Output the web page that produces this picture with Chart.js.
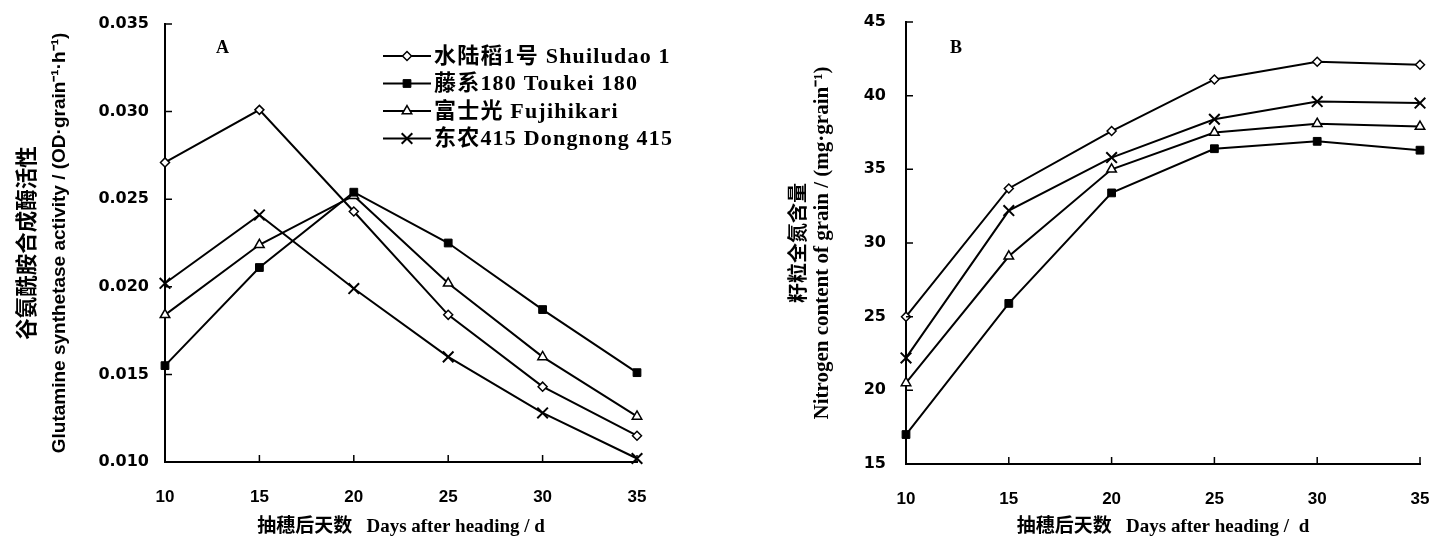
<!DOCTYPE html>
<html>
<head>
<meta charset="utf-8">
<script src="https://cdn.jsdelivr.net/npm/chart.js@4.4.1/dist/chart.umd.min.js"></script>
<style>
  html, body { margin: 0; padding: 0; background: #fff; overflow: hidden; }
  #wrapA { position: absolute; left: 0; top: 0; width: 700px; height: 544px; }
  #wrapB { position: absolute; left: 780px; top: 0; width: 657px; height: 544px; }
</style>
</head>
<body>
<div id="wrapA"><canvas id="chartA"></canvas></div>
<div id="wrapB"><canvas id="chartB"></canvas></div>
<script>
// days after heading
const days = [10, 15, 20, 25, 30, 35];
const varieties = ['水陆稻1号 Shuiludao 1', '藤系180 Toukei 180', '富士光 Fujihikari', '东农415 Dongnong 415'];

// A: glutamine synthetase activity
const gsShuiludao = [0.0271, 0.0301, 0.0243, 0.0184, 0.0143, 0.0115];
const gsToukei    = [0.0155, 0.0211, 0.0254, 0.0225, 0.0187, 0.0151];
const gsFujihikari = [0.0184, 0.0224, 0.0252, 0.0202, 0.0160, 0.0126];
const gsDongnong  = [0.0202, 0.0241, 0.0199, 0.0160, 0.0128, 0.0102];

// B: nitrogen content of grain
const nShuiludao = [25.0, 33.7, 37.6, 41.1, 42.3, 42.1];
const nToukei    = [17.0, 25.9, 33.4, 36.4, 36.9, 36.3];
const nFujihikari = [20.5, 29.1, 35.0, 37.5, 38.1, 37.9];
const nDongnong  = [22.2, 32.2, 35.8, 38.4, 39.6, 39.5];

const markerStyles = [
    { pointStyle: 'rectRot', radius: 4.5, fill: '#fff', width: 1.5 },
    { pointStyle: 'rect', radius: 5.5, fill: '#000', width: 1 },
    { pointStyle: 'triangle', radius: 5.5, fill: '#fff', width: 1.5 },
    { pointStyle: 'crossRot', radius: 7.5, fill: '#000', width: 2 }
];

const yTickFont = { family: "'DejaVu Sans', sans-serif", size: 16, weight: 'bold' };
const xTickFont = { family: "'Liberation Sans', Arial, sans-serif", size: 17, weight: 'bold' };
const titleFamily = "'Liberation Serif', 'Noto Sans CJK SC', serif";

function buildDatasets(seriesList) {
    return seriesList.map((values, i) => ({
        label: varieties[i],
        data: days.map((d, j) => ({ x: d, y: values[j] })),
        borderColor: '#000',
        borderWidth: 2,
        pointStyle: markerStyles[i].pointStyle,
        pointRadius: markerStyles[i].radius,
        pointBackgroundColor: markerStyles[i].fill,
        pointBorderColor: '#000',
        pointBorderWidth: markerStyles[i].width,
        clip: false,
        tension: 0
    }));
}

// short inward tick marks on both axes
const innerTicks = {
    id: 'innerTicks',
    afterDraw(chart) {
        const ctx = chart.ctx;
        const area = chart.chartArea;
        const xs = chart.scales.x, ys = chart.scales.y;
        ctx.save();
        ctx.strokeStyle = '#000';
        ctx.lineWidth = 1.5;
        ctx.beginPath();
        xs.ticks.forEach(t => {
            const px = xs.getPixelForValue(t.value);
            ctx.moveTo(px, area.bottom);
            ctx.lineTo(px, area.bottom - 7);
        });
        ys.ticks.forEach(t => {
            const py = ys.getPixelForValue(t.value);
            ctx.moveTo(area.left, py);
            ctx.lineTo(area.left + 7, py);
        });
        ctx.stroke();
        ctx.restore();
    }
};

// panel letter, Chinese y title line and line legend
const panelDecor = {
    id: 'panelDecor',
    afterDraw(chart, args, opts) {
        const ctx = chart.ctx;
        const area = chart.chartArea;
        ctx.save();
        ctx.fillStyle = '#000';
        ctx.font = "bold 18px 'Liberation Serif', serif";
        ctx.textBaseline = 'middle';
        ctx.fillText(opts.letter, opts.letterX, opts.letterY);

        ctx.save();
        ctx.translate(opts.cnX, (area.top + area.bottom) / 2);
        ctx.rotate(-Math.PI / 2);
        ctx.textAlign = 'center';
        ctx.font = "bold " + opts.cnSize + "px 'Noto Sans CJK SC', sans-serif";
        ctx.fillText(opts.cnTitle, 0, 0);
        ctx.restore();

        if (opts.legend) {
            ctx.font = "bold 22px 'Liberation Serif', 'Noto Sans CJK SC', serif";
            ctx.letterSpacing = '1.2px';
            chart.data.datasets.forEach((ds, i) => {
                const y = opts.legendY + i * 27.5;
                ctx.strokeStyle = '#000';
                ctx.lineWidth = 2;
                ctx.beginPath();
                ctx.moveTo(opts.legendX, y);
                ctx.lineTo(opts.legendX + 48, y);
                ctx.stroke();
                ctx.fillStyle = ds.pointBackgroundColor;
                ctx.lineWidth = ds.pointBorderWidth;
                Chart.helpers.drawPoint(ctx, { pointStyle: ds.pointStyle, radius: ds.pointRadius, rotation: 0, borderWidth: ds.pointBorderWidth }, opts.legendX + 24, y);
                ctx.fillStyle = '#000';
                ctx.fillText(ds.label, opts.legendX + 51, y + 1);
            });
        }
        ctx.restore();
    }
};

function buildChart(canvasId, seriesList, cfg) {
    const chartCtx = document.getElementById(canvasId).getContext('2d');
    return new Chart(chartCtx, {
        type: 'line',
        data: { datasets: buildDatasets(seriesList) },
        plugins: [innerTicks, panelDecor],
        options: {
            responsive: true,
            maintainAspectRatio: false,
            animation: false,
            events: [],
            layout: { autoPadding: false, padding: { top: cfg.top, right: cfg.right, left: 0, bottom: 0 } },
            plugins: {
                legend: { display: false },
                tooltip: { enabled: false },
                panelDecor: cfg.decor
            },
            scales: {
                x: {
                    type: 'linear',
                    min: 10,
                    max: 35,
                    afterFit: s => { s.height = cfg.xHeight; s.paddingLeft = 0; s.paddingRight = 0; },
                    border: { display: true, color: '#000', width: 2 },
                    grid: { display: false, drawTicks: false },
                    ticks: { stepSize: 5, color: '#000', font: xTickFont, padding: 25, maxRotation: 0 },
                    title: {
                        display: true,
                        text: cfg.xTitle,
                        color: '#000',
                        font: { family: titleFamily, size: 19, weight: 'bold' },
                        padding: { top: 0, bottom: 6 }
                    }
                },
                y: {
                    min: cfg.yMin,
                    max: cfg.yMax,
                    afterFit: s => { s.width = cfg.yWidth; s.paddingTop = 0; s.paddingBottom = 0; },
                    border: { display: true, color: '#000', width: 2 },
                    grid: { display: false, drawTicks: false },
                    ticks: {
                        stepSize: cfg.yStep,
                        color: '#000',
                        font: yTickFont,
                        padding: cfg.yPad,
                        callback: v => v.toFixed(cfg.yDigits)
                    },
                    title: {
                        display: true,
                        text: cfg.yTitle,
                        color: '#000',
                        font: { family: cfg.yTitleFamily, size: cfg.yTitleSize, weight: 'bold', lineHeight: 1.2 },
                        padding: { top: cfg.yTitleOffset, bottom: 0 }
                    }
                }
            }
        }
    });
}

buildChart('chartA', [gsShuiludao, gsToukei, gsFujihikari, gsDongnong], {
    top: 24, right: 63, xHeight: 82, yWidth: 165, yPad: 16,
    yMin: 0.010, yMax: 0.035, yStep: 0.005, yDigits: 3,
    xTitle: '抽穗后天数   Days after heading / d',
    yTitle: 'Glutamine synthetase activity / (OD·grain⁻¹·h⁻¹)',
    yTitleFamily: "'Liberation Sans', sans-serif",
    yTitleSize: 19,
    yTitleOffset: 48,
    decor: { letter: 'A', letterX: 216, letterY: 48, cnX: 26, cnSize: 21.5, cnTitle: '谷氨酰胺合成酶活性', legend: true, legendX: 383, legendY: 56 }
});

buildChart('chartB', [nShuiludao, nToukei, nFujihikari, nDongnong], {
    top: 22, right: 17, xHeight: 80, yWidth: 126, yPad: 20,
    yMin: 15, yMax: 45, yStep: 5, yDigits: 0,
    xTitle: '抽穗后天数   Days after heading /  d',
    yTitle: 'Nitrogen content of grain / (mg·grain⁻¹)',
    yTitleFamily: titleFamily,
    yTitleSize: 21,
    yTitleOffset: 30,
    decor: { letter: 'B', letterX: 170, letterY: 48, cnX: 17, cnSize: 20, cnTitle: '籽粒全氮含量', legend: false }
});
</script>
</body>
</html>
